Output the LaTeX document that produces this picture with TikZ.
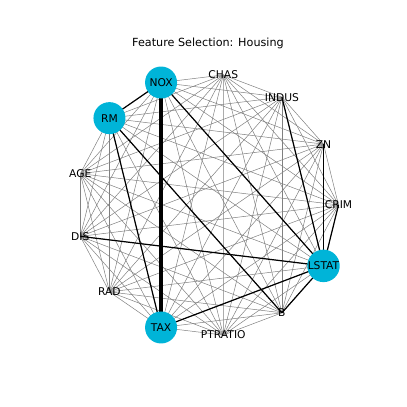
\documentclass[tikz,border=0pt]{standalone}
\usepackage{fontspec}
\setmainfont{DejaVu Sans}
\usetikzlibrary{backgrounds}
\definecolor{selcyan}{RGB}{0,180,216}

\begin{document}
\begin{tikzpicture}[x=1pt, y=1pt,
    feat/.style={font=\fontsize{10.7}{12}\selectfont, inner sep=0pt},
    sel/.style={feat, circle, fill=selcyan, minimum size=32pt},
    weak/.style={black!50, line width=0.5pt},
    strong/.style={black, line width=1.2pt}]
\useasboundingbox (0,0) rectangle (407,407);
\node[font=\fontsize{11.2}{13}\selectfont, anchor=base] (title) at (208,360) {Feature Selection: Housing};
\foreach \name/\kind [count=\i from 0] in {CRIM/feat, ZN/feat, INDUS/feat, CHAS/feat, NOX/sel, RM/sel, AGE/feat,
                                          DIS/feat, RAD/feat, TAX/sel, PTRATIO/feat, B/feat, LSTAT/sel}
  \node[\kind] (\name) at ({207.5+131*cos(\i*360/13)},{202+131*sin(\i*360/13)}) {\name};
\begin{scope}[on background layer]
\foreach \a [count=\i] in {CRIM,ZN,INDUS,CHAS,NOX,RM,AGE,DIS,RAD,TAX,PTRATIO,B,LSTAT}
  \foreach \b [count=\j] in {CRIM,ZN,INDUS,CHAS,NOX,RM,AGE,DIS,RAD,TAX,PTRATIO,B,LSTAT}
    {\ifnum\i<\j \draw[weak] (\a.center) -- (\b.center); \fi}
\foreach \a/\b in {NOX/RM, NOX/LSTAT, RM/TAX, RM/B, DIS/LSTAT, TAX/LSTAT, B/LSTAT, CRIM/LSTAT, ZN/LSTAT, INDUS/LSTAT}
  \draw[strong] (\a.center) -- (\b.center);
\draw[strong, line width=4pt] (NOX.center) -- (TAX.center);
\end{scope}
\end{tikzpicture}
\end{document}
